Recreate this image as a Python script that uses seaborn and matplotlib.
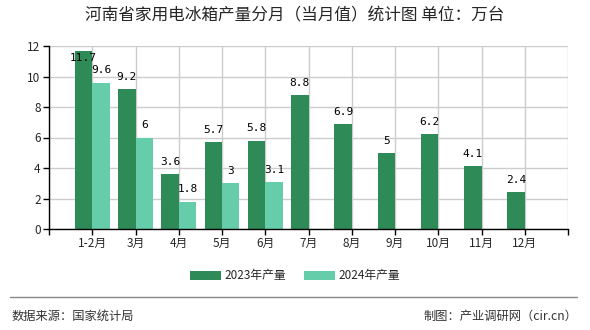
import matplotlib
matplotlib.use("Agg")
import matplotlib.pyplot as plt
import seaborn as sns
import pandas as pd
import numpy as np
from matplotlib.lines import Line2D

months = ["1-2月", "3月", "4月", "5月", "6月", "7月", "8月", "9月", "10月", "11月", "12月"]
prod_2023 = [11.7, 9.2, 3.6, 5.7, 5.8, 8.8, 6.9, 5.0, 6.2, 4.1, 2.4]
prod_2024 = [9.6, 6.0, 1.8, 3.0, 3.1]
series_names = ["2023年产量", "2024年产量"]
colors = ["#2E8B57", "#66CDAA"]

title = "河南省家用电冰箱产量分月（当月值）统计图 单位：万台"
source = "数据来源：国家统计局"
credit = "制图：产业调研网（cir.cn）"

sns.set_theme(style="white")
plt.rcParams['font.family'] = ['Noto Sans CJK SC', 'DejaVu Sans']

rows = []
for m, v in zip(months, prod_2023):
    rows.append({"month": m, "series": series_names[0], "value": v})
for m, v in zip(months, prod_2024):
    rows.append({"month": m, "series": series_names[1], "value": v})
df = pd.DataFrame(rows)

fig = plt.figure(figsize=(5.9, 3.3), dpi=100)
ax = fig.add_axes([49/590, 1-229/330, (568-49)/590, (229-46)/330])

sns.barplot(data=df, x="month", y="value", hue="series", order=months,
            hue_order=series_names, palette=colors, width=0.8, saturation=1,
            errorbar=None, ax=ax, legend=True, linewidth=0, edgecolor="none")

ax.set_xlim(-1, len(months))
ax.set_ylim(0, 12)
ax.set_yticks(np.arange(0, 13, 2))
ax.set_xticks(np.arange(-1, len(months) + 1))
ax.set_xticklabels([""] + months + [""])
ax.set_xlabel("")
ax.set_ylabel("")
ax.grid(True, color="#cccccc", linewidth=1)
ax.set_axisbelow(True)
for s in ["top", "right"]:
    ax.spines[s].set_visible(False)
for s in ["left", "bottom"]:
    ax.spines[s].set_color("black")
    ax.spines[s].set_linewidth(1)
ax.tick_params(axis="both", which="both", length=4, width=1, color="black",
               labelsize=8.5, pad=2, bottom=True, left=True)

# value labels
off = 0.8
ymax_lbl = 11.2
for cont in ax.containers:
    for bar in cont:
        h = bar.get_height()
        if np.isnan(h):
            continue
        x = bar.get_x() + bar.get_width() / 2
        y = min(h + off, ymax_lbl)
        ax.text(x, y, f"{h:g}", ha="center", va="center", fontsize=8,
                family="DejaVu Sans Mono", color="black")

handles, labels = ax.get_legend_handles_labels()
ax.get_legend().remove()
fig.legend(handles, labels, loc="center", bbox_to_anchor=(0.5, 1-276/330),
           ncol=2, frameon=False, fontsize=8.5, handlelength=2.6,
           handleheight=0.9, columnspacing=1.5, handletextpad=0.3)

fig.text(0.5, 1-16/330, title, ha="center", va="center", fontsize=12)
fig.add_artist(Line2D([10/590, 577/590], [1-297/330, 1-297/330],
                      color="#888888", linewidth=1))
fig.text(12/590, 1-316/330, source, ha="left", va="center", fontsize=8.8, color="#333333")
fig.text(577/590, 1-316/330, credit, ha="right", va="center", fontsize=8.8, color="#333333")

fig.savefig("out.png", dpi=100)
